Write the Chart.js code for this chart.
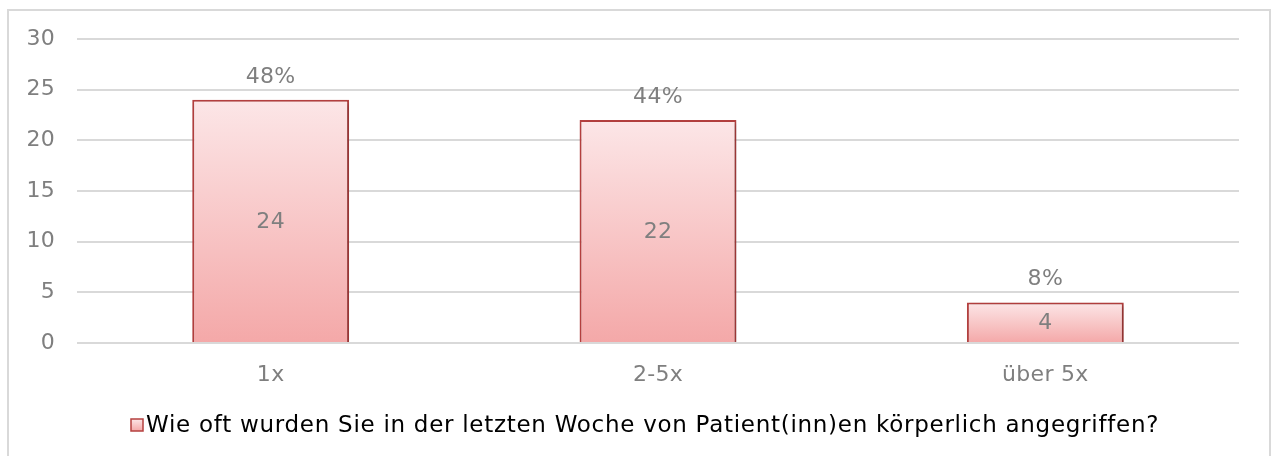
<!DOCTYPE html>
<html>
<head>
<meta charset="utf-8">
<script src="https://cdn.jsdelivr.net/npm/chart.js@4"></script>
<style>
  html, body { margin: 0; padding: 0; background: #fff; }
  #wrap { position: relative; width: 1272px; height: 456px; }
</style>
</head>
<body>
<div id="wrap"><canvas id="chart-1" width="1272" height="456"></canvas></div>
<script>
const categories = ['1x', '2-5x', 'über 5x'];
const counts = [24, 22, 4];
const percents = [48, 44, 8];
const seriesLabel = 'Wie oft wurden Sie in der letzten Woche von Patient(inn)en körperlich angegriffen?';

const FONT = '"DejaVu Sans", Verdana, sans-serif';
const GRAY = '#7f7f7f';
const RED = '#b5403f';

function barGradient(ctx, top, bottom) {
  const g = ctx.createLinearGradient(0, top, 0, bottom);
  g.addColorStop(0, '#fce6e7');
  g.addColorStop(1, '#f4a8a8');
  return g;
}

// frame, shadowed bars, bar labels and the legend line underneath
const decorations = {
  id: 'decorations',
  beforeDraw(chart) {
    const c = chart.ctx;
    c.save();
    c.strokeStyle = '#d9d9d9';
    c.lineWidth = 2;
    c.strokeRect(8, 10, 1262, 460);
    c.restore();
    c.letterSpacing = '0.3px';
  },
  beforeDatasetsDraw(chart) {
    const c = chart.ctx;
    c.save();
    c.shadowColor = 'rgba(0,0,0,0.25)';
    c.shadowBlur = 4;
    c.shadowOffsetX = 2;
    c.shadowOffsetY = 2;
  },
  afterDatasetsDraw(chart) {
    const c = chart.ctx;
    c.restore();
    const meta = chart.getDatasetMeta(0);
    c.save();
    c.font = '22px ' + FONT;
    c.fillStyle = GRAY;
    c.textAlign = 'center';
    c.textBaseline = 'middle';
    meta.data.forEach((bar, i) => {
      c.fillText(counts[i], bar.x, (bar.y + bar.base) / 2 + 1);
      c.fillText(percents[i] + '%', bar.x, bar.y - 23);
    });
    c.restore();
  },
  afterDraw(chart) {
    const c = chart.ctx;
    c.save();
    c.letterSpacing = '0.72px';
    c.font = '23px ' + FONT;
    c.textBaseline = 'middle';
    const tw = c.measureText(seriesLabel).width;
    const box = 12, gap = 3;
    const x0 = Math.round(chart.width / 2 + 9.5 - (box + gap + tw) / 2);
    const cy = 425;
    c.fillStyle = barGradient(c, cy - box / 2, cy + box / 2);
    c.fillRect(x0, cy - box / 2, box, box);
    c.strokeStyle = RED;
    c.lineWidth = 1.5;
    c.strokeRect(x0, cy - box / 2, box, box);
    c.fillStyle = '#000';
    c.fillText(seriesLabel, x0 + box + gap, cy + 1);
    c.restore();
  }
};

const ctx1 = document.getElementById('chart-1').getContext('2d');
const myChart = new Chart(ctx1, {
  type: 'bar',
  data: {
    labels: categories,
    datasets: [{
      label: seriesLabel,
      data: counts,
      backgroundColor: (context) => {
        const chart = context.chart;
        if (!chart.chartArea || context.type !== 'data') return '#f8c8c8';
        const y = chart.scales.y;
        return barGradient(chart.ctx, y.getPixelForValue(context.raw), y.getPixelForValue(0));
      },
      borderColor: RED,
      borderWidth: 2,
      borderSkipped: 'bottom',
      barPercentage: 0.405,
      categoryPercentage: 1
    }]
  },
  options: {
    responsive: false,
    animation: false,
    layout: { padding: { top: 39, right: 33, left: 0, bottom: 69 } },
    scales: {
      x: {
        afterFit(scale) { scale.height = 44; },
        grid: { display: false, drawTicks: false },
        border: { display: false },
        ticks: { color: GRAY, font: { family: FONT, size: 22 }, padding: 19 }
      },
      y: {
        min: 0,
        max: 30,
        afterFit(scale) { scale.width = 77; },
        grid: { color: '#d9d9d9', lineWidth: 2, drawTicks: false },
        border: { display: false },
        ticks: { stepSize: 5, color: GRAY, font: { family: FONT, size: 22 }, padding: 22 }
      }
    },
    plugins: {
      tooltip: { enabled: false },
      legend: { display: false }
    }
  },
  plugins: [decorations]
});
</script>
</body>
</html>
